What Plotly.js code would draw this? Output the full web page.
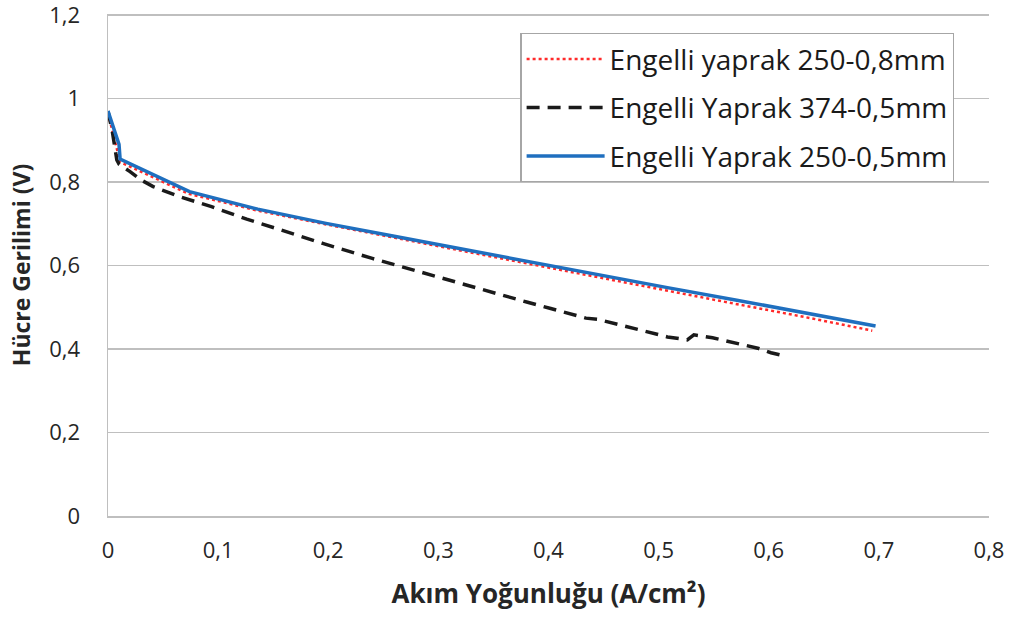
<!DOCTYPE html>
<html>
<head>
<meta charset="utf-8">
<script src="https://cdn.plot.ly/plotly-3.0.1.min.js"></script>
<style>html,body{margin:0;padding:0;background:#fff}#chart{width:1011px;height:617px}</style>
</head>
<body>
<div id="chart"></div>
<script>
// Series names
const seriesNames = ["Engelli yaprak 250-0,8mm", "Engelli Yaprak 374-0,5mm", "Engelli Yaprak 250-0,5mm"];

// Engelli yaprak 250-0,8mm (red dotted)
const redX = [0, 0.009, 0.011, 0.073, 0.135, 0.197, 0.259, 0.321, 0.383, 0.445, 0.507, 0.570, 0.632, 0.694];
const redY = [0.965, 0.870, 0.848, 0.772, 0.732, 0.699, 0.667, 0.636, 0.604, 0.572, 0.540, 0.508, 0.477, 0.444];

// Engelli Yaprak 374-0,5mm (black dashed)
const blackX = [0, 0.004, 0.008, 0.010, 0.020, 0.030, 0.041, 0.065, 0.094, 0.126, 0.155, 0.180, 0.195, 0.240, 0.277, 0.300, 0.331, 0.365, 0.381, 0.402, 0.434, 0.445, 0.475, 0.500, 0.508, 0.526, 0.532, 0.549, 0.570, 0.584, 0.590, 0.602, 0.610, 0.611];
const blackY = [0.970, 0.920, 0.853, 0.843, 0.825, 0.805, 0.789, 0.765, 0.741, 0.711, 0.687, 0.665, 0.653, 0.617, 0.589, 0.572, 0.548, 0.524, 0.512, 0.497, 0.474, 0.471, 0.452, 0.436, 0.429, 0.422, 0.434, 0.427, 0.415, 0.406, 0.402, 0.391, 0.386, 0.376];

// Engelli Yaprak 250-0,5mm (blue solid)
const blueX = [0, 0.010, 0.011, 0.074, 0.136, 0.198, 0.260, 0.322, 0.384, 0.446, 0.508, 0.571, 0.634, 0.697];
const blueY = [0.970, 0.890, 0.855, 0.777, 0.735, 0.701, 0.670, 0.639, 0.608, 0.577, 0.547, 0.517, 0.486, 0.455];

// Axis ticks
const xTicks = [0, 0.1, 0.2, 0.3, 0.4, 0.5, 0.6, 0.7, 0.8];
const xTickText = ["0", "0,1", "0,2", "0,3", "0,4", "0,5", "0,6", "0,7", "0,8"];
const yTicks = [0, 0.2, 0.4, 0.6, 0.8, 1, 1.2];
const yTickText = ["0", "0,2", "0,4", "0,6", "0,8", "1", "1,2"];

const FONT = "Open Sans, Noto Sans, sans-serif";

const traces = [
  {x: redX, y: redY, name: seriesNames[0], legendgroup: "a", mode: "lines", type: "scatter",
   line: {color: "#FF2A2A", width: 2.5, dash: "dot"}},
  {x: blackX, y: blackY, name: seriesNames[1], legendgroup: "b", mode: "lines", type: "scatter",
   line: {color: "#1A1A1A", width: 3.5, dash: "13px,8px"}},
  {x: blueX, y: blueY, name: seriesNames[2], legendgroup: "c", mode: "lines", type: "scatter",
   line: {color: "#1F6FBF", width: 3.5}}
];

const layout = {
  width: 1011, height: 617,
  margin: {l: 108, r: 22, t: 14, b: 101, pad: 0},
  paper_bgcolor: "#fff", plot_bgcolor: "#fff",
  font: {family: FONT, size: 22, color: "#262626"},
  showlegend: true,
  legend: {
    x: 0.468, y: 0.962, xanchor: "left", yanchor: "top",
    bgcolor: "#fff", bordercolor: "#A6A6A6", borderwidth: 1.3,
    font: {family: FONT, size: 28, color: "#1A1A1A"},
    traceorder: "grouped", tracegroupgap: 9, itemwidth: 78
  },
  xaxis: {
    range: [0, 0.8], tickvals: xTicks, ticktext: xTickText,
    showgrid: false, zeroline: false,
    showline: true, linecolor: "#BFBFBF", linewidth: 1.5,
    ticks: "", ticklen: 0, ticklabelstandoff: 14,
    tickfont: {family: FONT, size: 22, color: "#262626"},
    title: {text: "<b>Akım Yoğunluğu (A/cm²)</b>", font: {family: FONT, size: 26, color: "#262626"}, standoff: 22},
    automargin: false
  },
  yaxis: {
    range: [0, 1.2025], tickvals: yTicks, ticktext: yTickText,
    showgrid: true, gridcolor: "#BFBFBF", gridwidth: 1.3,
    zeroline: false, showline: true, linecolor: "#BFBFBF", linewidth: 1.5,
    ticks: "", ticklen: 0, ticklabelstandoff: 22, ticklabeloverflow: "allow",
    tickfont: {family: FONT, size: 22, color: "#262626"},
    title: {text: "<b>Hücre Gerilimi (V)</b>", font: {family: FONT, size: 23, color: "#262626"}, standoff: 12},
    automargin: false
  }
};

Plotly.newPlot("chart", traces, layout, {displayModeBar: false, staticPlot: true});
</script>
</body>
</html>
